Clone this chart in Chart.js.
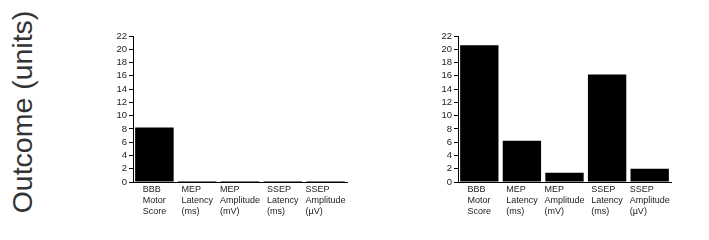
<!DOCTYPE html>
<html>
<head>
<meta charset="utf-8">
<script src="https://cdn.jsdelivr.net/npm/chart.js@4.4.0/dist/chart.umd.min.js"></script>
<style>
  body { margin: 0; background: #fff; width: 709px; height: 240px; overflow: hidden; position: relative; }
  .box { position: absolute; top: 0; height: 240px; }
  #ylab {
    position: absolute; left: 22px; top: 112px;
    transform: translate(-50%, -50%) rotate(-90deg);
    font-family: "Liberation Sans", Arial, sans-serif; font-size: 28.5px; color: #333;
    white-space: nowrap;
  }
</style>
</head>
<body>
<div id="ylab">Outcome (units)</div>
<div class="box" style="left:100px;width:260px"><canvas id="chartA"></canvas></div>
<div class="box" style="left:420px;width:289px"><canvas id="chartB"></canvas></div>
<script>
const categories = [
  ["BBB", "Motor", "Score"],
  ["MEP", "Latency", "(ms)"],
  ["MEP", "Amplitude", "(mV)"],
  ["SSEP", "Latency", "(ms)"],
  ["SSEP", "Amplitude", "(\u00b5V)"]
];
const leftValues = [8.2, 0.15, 0.15, 0.15, 0.15];
const rightValues = [20.6, 6.2, 1.4, 16.2, 2.0];
const yMin = 0;
const yMax = 22;
const yStep = 2;

const labelFont = '9px "Liberation Sans", Arial, sans-serif';

// draws the category labels as left-aligned lines in a block centred on each bar
const blockLabels = {
  id: "blockLabels",
  afterDraw(chart) {
    const ctx = chart.ctx;
    const x = chart.scales.x;
    const base = chart.chartArea.bottom;
    ctx.save();
    ctx.font = labelFont;
    ctx.fillStyle = "#222";
    ctx.textBaseline = "middle";
    ctx.textAlign = "left";
    chart.data.labels.forEach((lines, i) => {
      const w = Math.max(...lines.map(l => ctx.measureText(l).width));
      const left = x.getPixelForValue(i) - w / 2;
      lines.forEach((l, j) => ctx.fillText(l, left, base + 8 + j * 11));
    });
    ctx.restore();
  }
};

function makeChart(id, values, yWidth, padRight) {
  return new Chart(document.getElementById(id), {
    type: "bar",
    data: {
      labels: categories,
      datasets: [{
        data: values,
        backgroundColor: "#000",
        borderWidth: 0,
        barPercentage: 0.9,
        categoryPercentage: 1.0
      }]
    },
    options: {
      responsive: true,
      maintainAspectRatio: false,
      animation: false,
      layout: { padding: { top: 36, right: padRight, bottom: 50, left: 0 } },
      plugins: { legend: { display: false }, tooltip: { enabled: false } },
      scales: {
        x: {
          grid: { display: false },
          border: { display: true, color: "#000", width: 1 },
          ticks: { display: false }
        },
        y: {
          min: yMin,
          max: yMax,
          afterFit(scale) { scale.width = yWidth; },
          grid: { drawOnChartArea: false, drawTicks: true, tickLength: 4, color: "#000" },
          border: { display: true, color: "#000", width: 1 },
          ticks: {
            stepSize: yStep,
            autoSkip: false,
            padding: 2,
            color: "#222",
            font: { family: "Liberation Sans", size: 9.5 }
          }
        }
      }
    },
    plugins: [blockLabels]
  });
}

makeChart("chartA", leftValues, 33, 13);
makeChart("chartB", rightValues, 38, 38);
</script>
</body>
</html>
